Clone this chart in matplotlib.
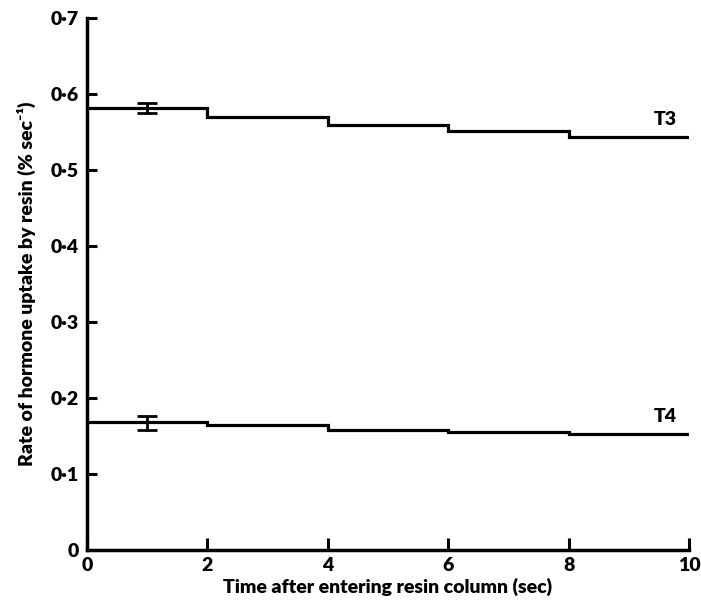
import matplotlib
matplotlib.use("Agg")
import matplotlib.pyplot as plt
import numpy as np

plt.rcParams["font.family"] = ["Lato", "DejaVu Sans"]
plt.rcParams["font.weight"] = "heavy"

# data
edges = [0, 2, 4, 6, 8, 10]
t3_rate = [0.581, 0.570, 0.559, 0.551, 0.543]
t4_rate = [0.169, 0.164, 0.158, 0.156, 0.153]
err_x = [1, 1]
err_mid = [0.5815, 0.1675]
err_half = [0.0065, 0.0095]
series_names = ["T3", "T4"]
label_y = [0.566, 0.176]

xticks = [0, 2, 4, 6, 8, 10]
yticks = [0, 0.1, 0.2, 0.3, 0.4, 0.5, 0.6, 0.7]
ytick_labels = ["0", "0·1", "0·2", "0·3", "0·4", "0·5", "0·6", "0·7"]

fig = plt.figure(figsize=(7.01, 6.14), dpi=100)
ax = fig.add_axes([0.124, 0.104, 0.859, 0.867])

ax.stairs(t3_rate, edges, baseline=None, color="black", linewidth=2.3)
ax.stairs(t4_rate, edges, baseline=None, color="black", linewidth=2.3)
ax.errorbar(err_x, err_mid, yerr=err_half, fmt="none", ecolor="black",
            elinewidth=2, capsize=7, capthick=2)

for name, y in zip(series_names, label_y):
    ax.text(9.6, y, name, ha="center", va="center", fontsize=14, fontweight="heavy")

ax.set_xlim(0, 10)
ax.set_ylim(0, 0.7)
ax.set_xticks(xticks)
ax.set_xticklabels([str(t) for t in xticks])
ax.set_yticks(yticks)
ax.set_yticklabels(ytick_labels)

for s in ["top", "right"]:
    ax.spines[s].set_visible(False)
for s in ["left", "bottom"]:
    ax.spines[s].set_linewidth(2.5)

ax.tick_params(axis="x", direction="in", length=9, width=2.2, labelsize=14, pad=5)
ax.tick_params(axis="y", direction="in", length=7, width=2.2, labelsize=14, pad=6)
for lab in ax.get_xticklabels() + ax.get_yticklabels():
    lab.set_fontweight("heavy")

ax.set_xlabel("Time after entering resin column (sec)", fontsize=14, fontweight="heavy", labelpad=3)
ax.set_ylabel("Rate of hormone uptake by resin (% sec⁻¹)", fontsize=14, fontweight="heavy", labelpad=10)

fig.savefig("out.png", dpi=100)
